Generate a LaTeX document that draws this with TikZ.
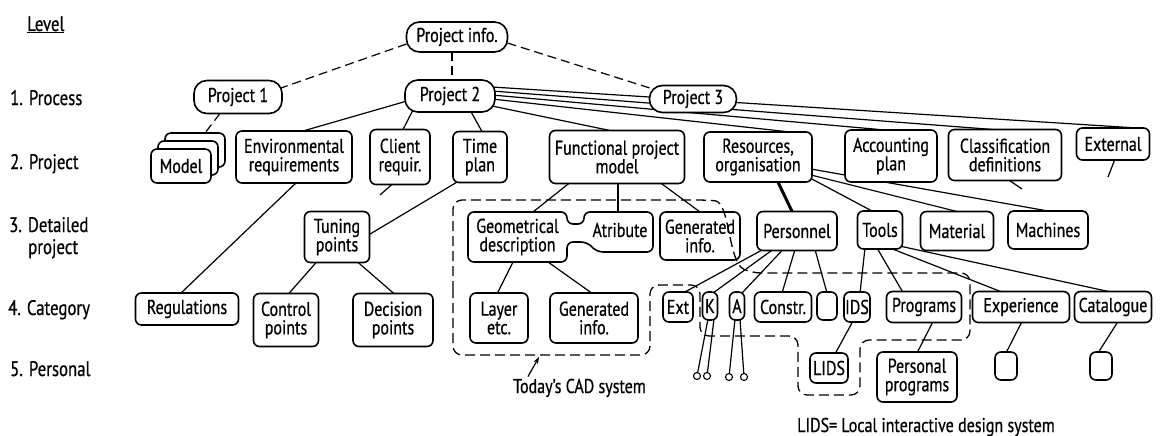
\documentclass[tikz,border=0pt]{standalone}
\usepackage{fontspec}
\setmainfont[FakeStretch=0.8,FakeBold=0.6]{PT Sans}
\usetikzlibrary{arrows.meta}
\pgfdeclarelayer{bg}
\pgfsetlayers{bg,main}
\newcommand\boxfont{\fontsize{20}{18.5}\selectfont}
\newcommand\lvlfont{\fontsize{21}{20}\selectfont}
\begin{document}
\begin{tikzpicture}[x=1pt,y=-1pt,
  conn/.style={line width=1.2pt},
  dconn/.style={line width=1.2pt, dash pattern=on 9pt off 5pt},
  dregion/.style={line width=1.3pt, dash pattern=on 10pt off 5pt, rounded corners=9pt},
  box/.style={draw, line width=1.6pt, rounded corners=6pt, fill=white, align=center, inner sep=0pt, outer sep=0pt, font=\boxfont},
  bx/.style n args={2}{box, minimum width=#1pt, minimum height=#2pt},
  proj/.style n args={2}{box, rounded corners=13pt, minimum width=#1pt, minimum height=#2pt},
  lbl/.style={align=center, inner sep=0pt, outer sep=0pt, font=\boxfont},
  lvl/.style={anchor=base west, inner sep=0pt, font=\lvlfont},
  note/.style={anchor=base west, inner sep=0pt, font=\boxfont},
  circ/.style={draw, circle, line width=1.1pt, minimum size=7pt, inner sep=0pt, fill=white}]

\useasboundingbox (0,0) rectangle (1161,436);

% level labels
\node[lvl] (lvl0) at (27,31) {\underline{Level}};
\node[lvl] (lvl1) at (10,105) {1. Process};
\node[lvl] (lvl2) at (10,169) {2. Project};
\node[lvl] (lvl3) at (9,232) {3. Detailed};
\node[lvl] (lvl3b) at (28,254) {project};
\node[lvl] (lvl4) at (8,315) {4. Category};
\node[lvl] (lvl5) at (10,376) {5. Personal};

% process level
\node[proj={101}{30}] (pinfo) at (457,37) {Project info.};
\node[proj={88}{33}] (p1) at (238,97) {Project 1};
\node[proj={90}{32}] (p2) at (450,96) {Project 2};
\node[proj={87}{27}] (p3) at (693,99) {Project 3};

% project level
\node[bx={60}{34}] (model3) at (195,150) {};
\node[bx={60}{34}] (model2) at (188,158) {};
\node[bx={60}{34}] (model) at (181,166) {Model};
\node[bx={116}{52}] (env) at (294,157) {Environmental\\requirements};
\node[bx={60}{55}] (client) at (400,157) {Client\\requir.};
\node[bx={54}{51}] (time) at (480,157) {Time\\plan};
\node[bx={135}{53}] (func) at (617,157) {Functional project\\model};
\node[bx={108}{50}] (res) at (758,157) {Resources,\\organisation};
\node[bx={92}{52}] (acc) at (891,156) {Accounting\\plan};
\node[bx={113}{51}] (cls) at (1005,155) {Classification\\definitions};
\node[bx={73}{32}] (ext) at (1113,144) {External};

% detailed project level
\node[bx={65}{51}] (tuning) at (337,237) {Tuning\\points};
\draw[line width=1.6pt, rounded corners=6pt, fill=white] (468,237) -- (468,212) -- (567,212) -- (567,224) -- (584,224) -- (584,212) -- (653,212) -- (653,252) -- (597,252) -- (587,242) -- (567,242) -- (567,262) -- (468,262) -- cycle;
\node[lbl, minimum width=99pt, minimum height=50pt] (geo) at (517.5,237) {Geometrical\\description};
\node[lbl, minimum width=66pt, minimum height=36pt] (atr) at (620,230) {Atribute};
\node[bx={80}{48}] (gen3) at (700,236) {Generated\\info.};
\node[bx={80}{39}] (pers) at (797,231) {Personnel};
\node[bx={45}{38}] (tools) at (880,230) {Tools};
\node[bx={73}{39}] (mat) at (957,231) {Material};
\node[bx={80}{38}] (mach) at (1048,230) {Machines};

% category level
\node[bx={103}{32}] (reg) at (187,309) {Regulations};
\node[bx={65}{53}] (ctrl) at (286,320) {Control\\points};
\node[bx={80}{53}] (dec) at (393,320) {Decision\\points};
\node[bx={58}{50}] (layer) at (499,318) {Layer\\etc.};
\node[bx={88}{50}] (gen4) at (594,318) {Generated\\info.};
\node[bx={30}{30}] (extb) at (678,307) {Ext};
\node[bx={15}{28}] (kb) at (710,306) {K};
\node[bx={15}{28}] (ab) at (737,306) {A};
\node[bx={57}{30}] (constr) at (783,307) {Constr.};
\node[bx={20}{28}] (blank4) at (827,306) {};
\node[bx={26}{30}] (ids) at (857,307) {IDS};
\node[bx={75}{31}] (prog) at (924,307) {Programs};
\node[bx={97}{31}] (expr) at (1021,307) {Experience};
\node[bx={77}{31}] (cat) at (1113,307) {Catalogue};

% personal level
\node[bx={38}{30}] (lids) at (829,368) {LIDS};
\node[bx={80}{50}] (pprog) at (917,377) {Personal\\programs};
\node[bx={22}{28}] (b5a) at (1006,366) {};
\node[bx={22}{28}] (b5b) at (1101,366) {};
\node[circ] (c1) at (697,376) {};
\node[circ] (c2) at (707,376) {};
\node[circ] (c3) at (729,377) {};
\node[circ] (c4) at (744,377) {};

% notes
\node[note] (cadlbl) at (513,393) {Today's CAD system};
\node[note] (lidsnote) at (797,432) {LIDS= Local interactive design system};

\coordinate (cstub) at (380,195);
\coordinate (clsstub) at (1022,189);
\coordinate (extstub) at (1108,177);
\coordinate (cadtip) at (539,357);

\begin{pgfonlayer}{bg}
\fill[white] (0,0) rectangle (1161,436);
% dashed links
\draw[dconn] ([shift={(0,7)}]pinfo.west) -- ([shift={(-1,-9)}]p1.east);
\draw[dconn] ([shift={(-5,0)}]pinfo.south) -- ([shift={(2,0)}]p2.north);
\draw[dconn] ([shift={(0,6)}]pinfo.east) -- ([shift={(5,4)}]p3.north west);
\draw[dconn] ([shift={(-18,0)}]p1.south) -- ([shift={(10,0)}]model3.north);
% project 2
\draw[conn] ([shift={(2,5)}]p2.west) -- ([shift={(9,0)}]env.north);
\draw[conn] ([shift={(-37,-2)}]p2.south) -- ([shift={(3,0)}]client.north);
\draw[conn] ([shift={(20,-2)}]p2.south) -- ([shift={(2,0)}]time.north);
\draw[conn] ([shift={(-3,10)}]p2.east) -- ([shift={(-7,0)}]func.north);
\draw[conn] ([shift={(-3,3)}]p2.east) -- ([shift={(32,0)}]res.north);
\draw[conn] ([shift={(-3,-1)}]p2.east) -- ([shift={(-6,0)}]acc.north);
\draw[conn] ([shift={(-3,-5)}]p2.east) -- ([shift={(-12,0)}]cls.north);
\draw[conn] ([shift={(-3,-9)}]p2.east) -- ([shift={(24,0)}]ext.north);
% stubs
\draw[conn] ([shift={(-7,-1)}]client.south) -- (cstub);
\draw[conn] ([shift={(3,-1)}]cls.south) -- (clsstub);
\draw[conn] ([shift={(2,-1)}]ext.south) -- (extstub);
% resources
\draw[conn, line width=3pt] ([shift={(19,-2)}]res.south) -- ([shift={(-4,2)}]pers.north);
\draw[conn] ([shift={(-2,-4)}]res.south east) -- ([shift={(-8,0)}]tools.north);
\draw[conn] ([shift={(-1,-7)}]res.south east) -- (mat.north);
\draw[conn] ([shift={(-1,12)}]res.east) -- (mach.north);
% left branch
\draw[conn] ([shift={(-22,-1)}]time.south) -- ([shift={(-1,-2)}]tuning.east);
\draw[conn] ([shift={(3,-1)}]env.south) -- ([shift={(-7,1)}]reg.north);
\draw[conn] ([shift={(-20,-1)}]tuning.south) -- ([shift={(2,1)}]ctrl.north);
\draw[conn] ([shift={(20,-1)}]tuning.south) -- ([shift={(2,1)}]dec.north);
% functional model
\draw[conn] ([shift={(-47,-1)}]func.south) -- ([shift={(15.5,0)}]geo.north);
\draw[conn] ([shift={(1,-1)}]func.south) -- ([shift={(-2,0)}]atr.north);
\draw[conn] ([shift={(43,-1)}]func.south) -- (gen3.north);
\draw[conn] ([shift={(-4.5,0)}]geo.south) -- ([shift={(-2,1)}]layer.north);
\draw[conn] ([shift={(30.5,0)}]geo.south) -- ([shift={(-1,1)}]gen4.north);
% personnel
\draw[conn] ([shift={(-34,-1)}]pers.south) -- ([shift={(5,1)}]extb.north);
\draw[conn] ([shift={(-24,-1)}]pers.south) -- ([shift={(3,1)}]kb.north);
\draw[conn] ([shift={(-14,-1)}]pers.south) -- ([shift={(5,1)}]ab.north);
\draw[conn] ([shift={(-2,-1)}]pers.south) -- ([shift={(-1,1)}]constr.north);
\draw[conn] ([shift={(18,-1)}]pers.south) -- ([shift={(0,1)}]blank4.north);
% tools
\draw[conn] ([shift={(-15,-1)}]tools.south) -- ([shift={(3,1)}]ids.north);
\draw[conn] ([shift={(-3,-1)}]tools.south) -- ([shift={(-21,1)}]prog.north);
\draw[conn] ([shift={(10,-1)}]tools.south) -- ([shift={(-18,1)}]expr.north);
\draw[conn] ([shift={(-3,-3)}]tools.south east) -- ([shift={(0,1)}]cat.north);
% level 5
\draw[conn] ([shift={(-4,-1)}]ids.south) -- ([shift={(6,1)}]lids.north);
\draw[conn] ([shift={(9,-1)}]prog.south) -- ([shift={(0,1)}]pprog.north);
\draw[conn] ([shift={(1,-1)}]expr.south) -- ([shift={(0,1)}]b5a.north);
\draw[conn] ([shift={(5,-1)}]cat.south) -- ([shift={(-3,1)}]b5b.north);
\draw[conn] ([shift={(-2,-1)}]kb.south) -- (c1);
\draw[conn] ([shift={(4,-1)}]kb.south) -- (c2);
\draw[conn] ([shift={(-2,-1)}]ab.south) -- (c3);
\draw[conn] ([shift={(3,-1)}]ab.south) -- (c4);
\end{pgfonlayer}

% dashed system boundary
\draw[dregion] (453,300) -- (453,200) -- (706,200) .. controls (730,202) and (728,262) .. (752,273) -- (970,273) -- (970,340) -- (860,340) -- (860,395) -- (798,395) -- (798,336) -- (700,336) -- (700,285) -- (650,285) -- (650,355) -- (453,355) -- cycle;
\draw[conn, -{Stealth[length=7pt,width=5pt]}] ([shift={(15,-2)}]cadlbl.north west) -- (cadtip);
\end{tikzpicture}
\end{document}
